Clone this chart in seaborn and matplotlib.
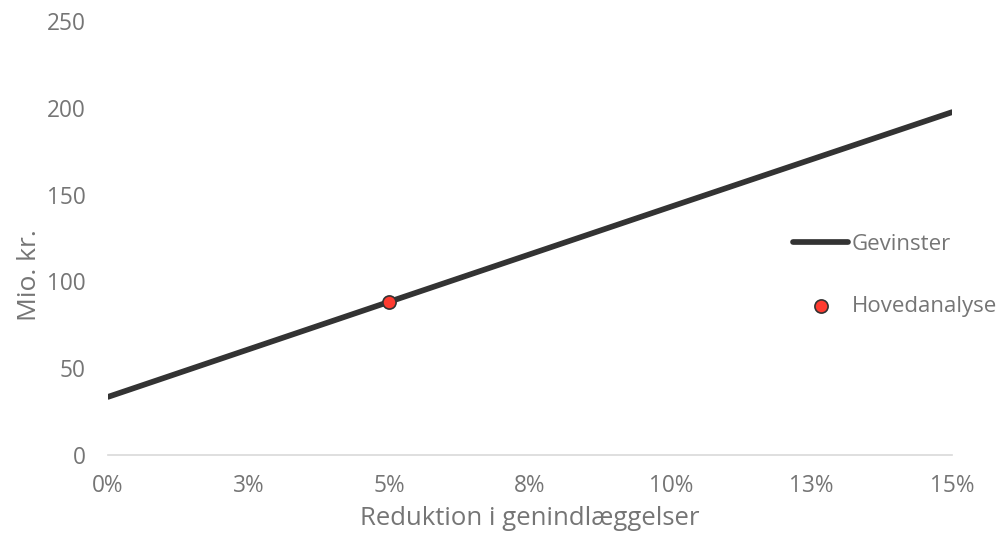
import pandas as pd
import matplotlib.pyplot as plt
import seaborn as sns

# Data
reduction = [0.0, 0.05, 0.10, 0.15]
gevinster = [33.5, 88.3, 143, 197.5]
main_x = [0.05]
main_y = [88.3]
xtick_vals = [0.0, 0.025, 0.05, 0.075, 0.10, 0.125, 0.15]
xtick_labels = ["0%", "3%", "5%", "8%", "10%", "13%", "15%"]
ytick_vals = [0, 50, 100, 150, 200, 250]

df_line = pd.DataFrame({"x": reduction, "y": gevinster})
df_pt = pd.DataFrame({"x": main_x, "y": main_y})

sns.set_theme(style="white")
plt.rcParams['font.family'] = ['Open Sans', 'DejaVu Sans']
grey = "#757575"

fig, ax = plt.subplots(figsize=(10.03, 5.39), dpi=100)
fig.subplots_adjust(left=0.1077, right=0.9492, bottom=0.1558, top=0.961)

sns.lineplot(data=df_line, x="x", y="y", ax=ax, color="#333333", linewidth=4.1,
             label="Gevinster")
sns.scatterplot(data=df_pt, x="x", y="y", ax=ax, color="#ff3b30", s=90,
                edgecolor="#333333", linewidth=1.2, label="Hovedanalyse", zorder=5)

ax.set_xlim(0, 0.15)
ax.set_ylim(0, 250)
ax.set_xticks(xtick_vals)
ax.set_xticklabels(xtick_labels)
ax.set_yticks(ytick_vals)
ax.tick_params(colors=grey, labelsize=16.3, length=0)
ax.tick_params(axis="y", pad=16)
ax.tick_params(axis="x", pad=13.7)
ax.set_xlabel("Reduktion i genindlæggelser", color=grey, fontsize=18.5, labelpad=5.5)
ax.set_ylabel("Mio. kr.", color=grey, fontsize=19)
ax.yaxis.set_label_coords(-0.0788, 0.4136)

for s in ["top", "right", "left"]:
    ax.spines[s].set_visible(False)
ax.spines["bottom"].set_color("#d9d9d9")
ax.spines["bottom"].set_linewidth(1.2)

leg = ax.legend(loc="center left", bbox_to_anchor=(0.801, 0.4136), frameon=False,
                borderaxespad=0, fontsize=16, handlelength=2.48, handletextpad=0.15,
                labelspacing=1.85)
for t in leg.get_texts():
    t.set_color(grey)

fig.savefig("out.png", dpi=100)
